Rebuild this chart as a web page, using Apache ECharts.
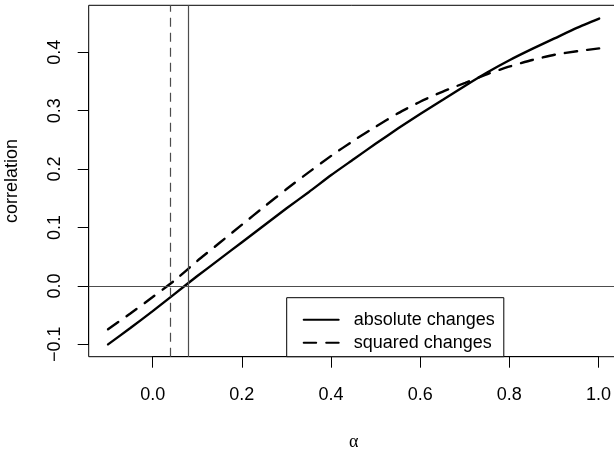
<!DOCTYPE html>
<html>
<head>
<meta charset="utf-8">
<script src="https://cdn.jsdelivr.net/npm/echarts@6/dist/echarts.min.js"></script>
<style>
html,body{margin:0;padding:0;background:#fff;}
#chart{width:614px;height:453px;}
</style>
</head>
<body>
<div id="chart"></div>
<script>
// ---- data ----
const alpha = [-0.1, -0.05, 0, 0.05, 0.1, 0.15, 0.2, 0.25, 0.3, 0.35, 0.4, 0.45, 0.5, 0.55, 0.6, 0.65, 0.7, 0.75, 0.8, 0.85, 0.9, 0.95, 1.0];
const absoluteChanges = [-0.100, -0.072, -0.043, -0.013, 0.017, 0.046, 0.075, 0.104, 0.133, 0.161, 0.190, 0.217, 0.244, 0.270, 0.295, 0.319, 0.343, 0.366, 0.387, 0.406, 0.424, 0.442, 0.458];
const squaredChanges  = [-0.074, -0.047, -0.019, 0.010, 0.043, 0.074, 0.105, 0.136, 0.166, 0.195, 0.223, 0.249, 0.273, 0.296, 0.316, 0.333, 0.348, 0.363, 0.376, 0.387, 0.396, 0.402, 0.407];
const seriesNames = ['absolute changes', 'squared changes'];
const xTickMin = 0, xTickMax = 1.0, xTickStep = 0.2;
const yTickMin = -0.1, yTickMax = 0.4, yTickStep = 0.1;
const zeroAbs = 0.077;   // solid vertical reference line
const zeroSq = 0.036;    // dashed vertical reference line
const hZero = 0;         // horizontal reference line

const fmt = v => v.toFixed(1).replace('-', '\u2212');
const FONT = "'Liberation Sans', Arial, Helvetica, sans-serif";

const chart = echarts.init(document.getElementById('chart'), null, {renderer: 'canvas'});
chart.setOption({
  animation: false,
  backgroundColor: '#fff',
  textStyle: {fontFamily: FONT, color: '#000'},
  grid: [
    { // plotting region (box), R usr with 4% extension
      left: 88.7, top: 5.3, width: 530.1, height: 351.4,
      show: true, borderColor: '#000', borderWidth: 1,
      containLabel: false, outerBoundsMode: 'none'
    },
    { // R-style axes spanning first..last tick
      left: 152.7, top: 52.3, width: 446.5, height: 292, show: false
    }
  ],
  xAxis: [
    {
      gridIndex: 0, type: 'value', min: -0.1433, max: 1.044,
      name: '\u03b1', nameLocation: 'middle', nameGap: 77,
      nameTextStyle: {fontFamily: "'Liberation Serif', 'DejaVu Serif', serif", fontSize: 18, color: '#000'},
      axisLine: {show: false, onZero: false}, axisTick: {show: false}, axisLabel: {show: false}, splitLine: {show: false}
    },
    {
      gridIndex: 1, type: 'value', min: xTickMin, max: xTickMax, interval: xTickStep,
      position: 'bottom', offset: 12.4,
      axisLine: {show: true, onZero: false, lineStyle: {color: '#000', width: 1}},
      axisTick: {show: true, length: 11, lineStyle: {color: '#000', width: 1}},
      axisLabel: {formatter: fmt, fontSize: 18, color: '#000', margin: 29, fontFamily: FONT},
      splitLine: {show: false}
    }
  ],
  yAxis: [
    {
      gridIndex: 0, type: 'value', min: -0.1211, max: 0.4807,
      name: 'correlation', nameLocation: 'middle', nameGap: 67.5, nameRotate: 90,
      nameTextStyle: {fontFamily: FONT, fontSize: 18, color: '#000'},
      axisLine: {show: false, onZero: false}, axisTick: {show: false}, axisLabel: {show: false}, splitLine: {show: false}
    },
    {
      gridIndex: 1, type: 'value', min: yTickMin, max: yTickMax, interval: yTickStep,
      position: 'left', offset: 64,
      axisLine: {show: true, onZero: false, lineStyle: {color: '#000', width: 1}},
      axisTick: {show: true, length: 11, lineStyle: {color: '#000', width: 1}},
      axisLabel: {formatter: fmt, fontSize: 18, color: '#000', rotate: 90, margin: 25, fontFamily: FONT},
      splitLine: {show: false}
    }
  ],
  legend: {
    show: true, orient: 'vertical', left: 286.7, top: 297.7,
    padding: [13, 9, 5, 16], itemGap: 5, itemWidth: 35, itemHeight: 18,
    backgroundColor: '#fff', borderColor: '#000', borderWidth: 1, borderRadius: 0,
    selectedMode: false,
    itemStyle: {opacity: 0},
    textStyle: {fontSize: 18, lineHeight: 18, color: '#000', fontFamily: FONT, padding: [0, 0, 0, 10]},
    data: seriesNames
  },
  series: [
    {
      name: seriesNames[0], type: 'line', symbol: 'none', smooth: 0.2,
      xAxisIndex: 0, yAxisIndex: 0,
      data: alpha.map((a, i) => [a, absoluteChanges[i]]),
      lineStyle: {color: '#000', width: 2.4, type: 'solid', cap: 'round'},
      itemStyle: {color: '#000'},
      z: 3,
      markLine: {
        silent: true, symbol: ['none', 'none'], label: {show: false},
        lineStyle: {color: '#4d4d4d', width: 1.2},
        data: [
          {xAxis: zeroAbs, lineStyle: {type: 'solid', color: '#4d4d4d', width: 1.2}},
          {xAxis: zeroSq, lineStyle: {type: [9, 6], color: '#4d4d4d', width: 1.2}},
          {yAxis: hZero, lineStyle: {type: 'solid', color: '#4d4d4d', width: 1.2}}
        ]
      }
    },
    {
      name: seriesNames[1], type: 'line', symbol: 'none', smooth: 0.2,
      xAxisIndex: 0, yAxisIndex: 0,
      data: alpha.map((a, i) => [a, squaredChanges[i]]),
      lineStyle: {color: '#000', width: 2.4, type: [12.5, 10], cap: 'round'},
      itemStyle: {color: '#000'},
      z: 3
    }
  ]
});
</script>
</body>
</html>
